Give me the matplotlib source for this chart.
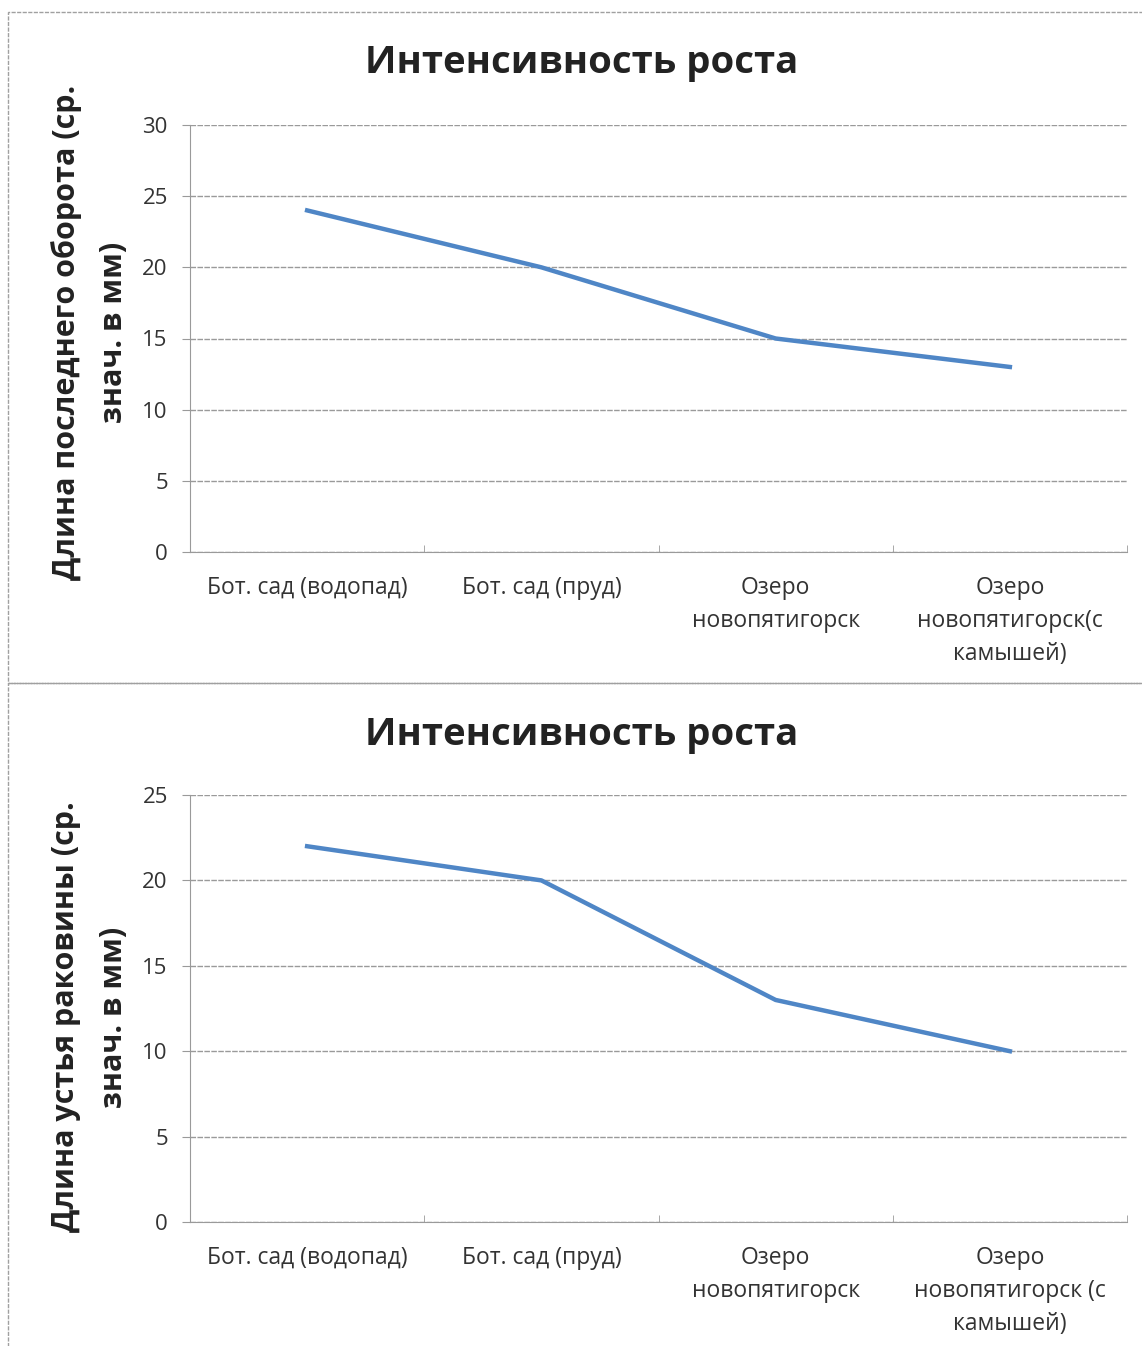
import matplotlib
matplotlib.use('Agg')
import matplotlib.pyplot as plt
from matplotlib.patches import Rectangle

plt.rcParams['font.family'] = ['Open Sans', 'DejaVu Sans']

# data
title = 'Интенсивность роста'
cats_top = ['Бот. сад (водопад)', 'Бот. сад (пруд)', 'Озеро\nновопятигорск',
            'Озеро\nновопятигорск(с\nкамышей)']
cats_bottom = ['Бот. сад (водопад)', 'Бот. сад (пруд)', 'Озеро\nновопятигорск',
               'Озеро\nновопятигорск (с\nкамышей)']
turn_length = [24, 20, 15, 13]
mouth_length = [22, 20, 13, 10]
ylabel_top = 'Длина последнего оборота (ср.\nзнач. в мм)'
ylabel_bottom = 'Длина устья раковины (ср.\nзнач. в мм)'

W, H = 1142, 1346
fig = plt.figure(figsize=(W / 100, H / 100), dpi=100)

line_color = '#4f86c6'
grid_color = '#9a9a9a'
text_color = '#333333'


def px_axes(x0, y0, x1, y1):
    # pixel box (top-left origin) -> figure fraction
    return fig.add_axes([x0 / W, 1 - y1 / H, (x1 - x0) / W, (y1 - y0) / H])


def draw(ax, cats, vals, ymax, ylabel, title_y, label_y):
    x = list(range(len(cats)))
    ax.plot(x, vals, color=line_color, lw=3.2)
    ax.set_xlim(-0.5, len(cats) - 0.5)
    ax.set_ylim(0, ymax)
    ax.set_yticks(range(0, ymax + 1, 5))
    ax.set_xticks(x)
    ax.set_xticklabels(cats, fontsize=16.5, color=text_color, linespacing=1.5,
                       va='top')
    ax.set_xticks([i - 0.5 for i in range(len(cats) + 1)], minor=True)
    ax.tick_params(axis='x', which='major', length=0, pad=17)
    ax.tick_params(axis='x', which='minor', length=5, color=grid_color, direction='in')
    ax.tick_params(axis='y', labelsize=16, labelcolor=text_color, length=6,
                   color=grid_color, pad=10)
    ax.grid(axis='y', color=grid_color, lw=1.0, ls=(0, (4, 1)))
    for s in ['top', 'right']:
        ax.spines[s].set_visible(False)
    ax.spines['left'].set_color(grid_color)
    ax.spines['bottom'].set_color(grid_color)
    ax.spines['left'].set_linestyle((0, (3, 1)))
    fig.text(90 / W, 1 - label_y / H, ylabel, rotation=90, fontsize=22,
             fontweight='bold', color='#222222', linespacing=1.75,
             ha='center', va='center', multialignment='center')
    fig.text(582 / W, 1 - title_y / H, title, fontsize=27.5, fontweight='bold',
             color='#222222', ha='center', va='center')


ax1 = px_axes(190, 125, 1127, 552)
draw(ax1, cats_top, turn_length, 30, ylabel_top, 63, 332)

ax2 = px_axes(190, 795, 1127, 1222)
draw(ax2, cats_bottom, mouth_length, 25, ylabel_bottom, 735, 1017)

# chart frames
for y0, y1 in [(12, 683), (683, 1360)]:
    fig.patches.append(Rectangle((8 / W, 1 - y1 / H), (1150 - 8) / W, (y1 - y0) / H,
                                 transform=fig.transFigure, fill=False,
                                 ec='#a0a0a0', lw=1.0, ls=(0, (3, 1))))

fig.savefig('out.png', dpi=100)
